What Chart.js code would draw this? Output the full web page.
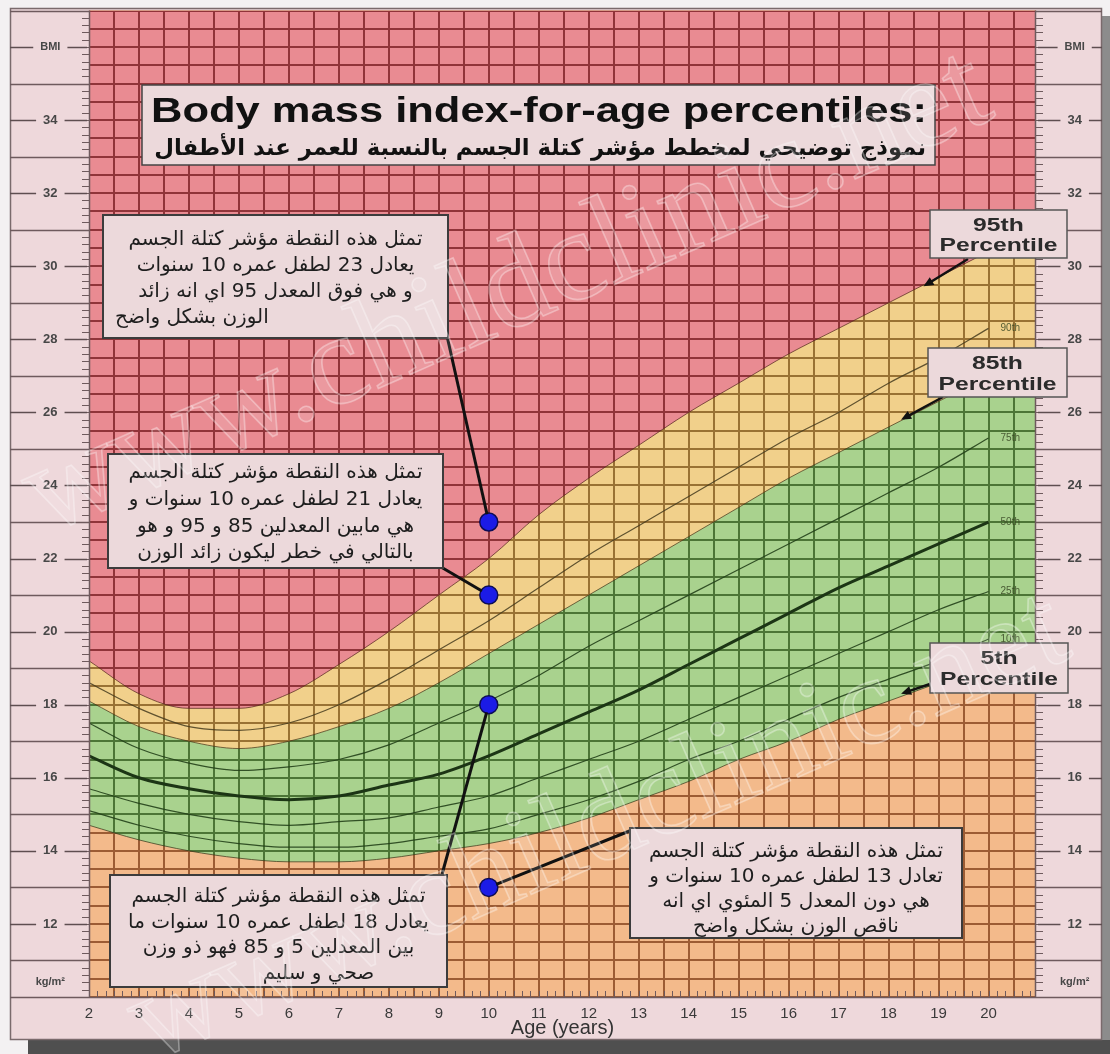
<!DOCTYPE html>
<html><head><meta charset="utf-8">
<script src="https://cdn.jsdelivr.net/npm/chart.js@4.4.1/dist/chart.umd.min.js"></script>
<style>
html,body{margin:0;padding:0;background:#f2f0f1;}
#wrap{position:relative;width:1110px;height:1054px;}
canvas{display:block;}
</style></head><body>
<div id="wrap"><canvas id="c" width="1110" height="1054"></canvas></div>
<script>
// ---------- DATA ----------
const ages = [2,3,4,5,6,7,8,9,10,11,12,13,14,15,16,17,18,19,20];
const edgeAge = [20.95];
const p95 = [19.2,18.3,17.9,17.9,18.3,19.1,20.0,21.0,22.0,23.2,24.2,25.1,26.0,26.8,27.6,28.3,29.0,29.7,30.4,31.0];
const p90 = [18.6,17.9,17.4,17.3,17.5,18.0,18.7,19.5,20.3,21.2,22.1,22.9,23.7,24.5,25.3,26.0,26.8,27.5,28.3];
const p85 = [18.1,17.4,17.0,16.8,17.0,17.4,17.9,18.6,19.4,20.2,21.0,21.8,22.6,23.4,24.2,24.9,25.6,26.3,27.0,27.6];
const p75 = [17.5,16.8,16.4,16.2,16.3,16.5,16.9,17.5,18.1,18.8,19.6,20.3,21.0,21.7,22.4,23.1,23.8,24.5,25.3];
const p50 = [16.6,16.0,15.7,15.5,15.4,15.5,15.8,16.1,16.6,17.2,17.8,18.4,19.1,19.8,20.5,21.2,21.8,22.4,23.0];
const p25 = [15.7,15.3,15.0,14.8,14.7,14.8,14.9,15.2,15.5,16.0,16.5,17.0,17.6,18.2,18.8,19.4,20.0,20.6,21.1];
const p10 = [15.1,14.7,14.4,14.2,14.1,14.1,14.2,14.4,14.6,15.0,15.4,15.9,16.5,17.0,17.6,18.2,18.7,19.2,19.8];
const p5  = [14.7,14.3,14.0,13.8,13.7,13.7,13.8,14.0,14.2,14.5,14.9,15.4,15.9,16.5,17.0,17.6,18.1,18.6,19.1,19.6];
const lineLabels = ['90th','75th','50th','25th','10th'];
const childAges = [10,10,10,10];
const childBMI = [23,21,18,13];
const ageTicks = [2,3,4,5,6,7,8,9,10,11,12,13,14,15,16,17,18,19,20];
const bmiTicks = [12,14,16,18,20,22,24,26,28,30,32,34];
const unitTickValues = [36,10.4];
const unitTickLabels = ['BMI','kg/m²'];
const percentileBoxLabels = ['95th','85th','5th'];
const arrowTipAges = [18.7,18.25,18.25];
const arrowTipBMI = [29.45,25.8,18.3];
const titleText = 'Body mass index-for-age percentiles:';
const subtitleText = 'نموذج توضيحي لمخطط مؤشر كتلة الجسم بالنسبة للعمر عند الأطفال';
const noteA = ['تمثل هذه النقطة مؤشر كتلة الجسم','يعادل 23 لطفل عمره 10 سنوات','و هي فوق المعدل 95 اي انه زائد','الوزن بشكل واضح'];
const noteB = ['تمثل هذه النقطة مؤشر كتلة الجسم','يعادل 21 لطفل عمره 10 سنوات و','هي مابين المعدلين 85 و 95 و هو','بالتالي في خطر ليكون زائد الوزن'];
const noteC = ['تمثل هذه النقطة مؤشر كتلة الجسم','يعادل 18 لطفل عمره 10 سنوات ما','بين المعدلين 5 و 85 فهو ذو وزن','صحي و سليم'];
const noteD = ['تمثل هذه النقطة مؤشر كتلة الجسم','تعادل 13 لطفل عمره 10 سنوات و','هي دون المعدل 5 المئوي اي انه','ناقص الوزن بشكل واضح'];
const watermarkText = 'www.childclinic.net';

// ---------- STYLE ----------
const SANS = "'Liberation Sans',Arial,sans-serif";
const NARROW = "'Liberation Sans Narrow','Liberation Sans',Arial,sans-serif";
const ARABIC = "'DejaVu Sans',sans-serif";
const C = {page:'#f3f1f2', panel:'#eed8db', red:'#e98b92', yellow:'#f1d08b', green:'#a9d28e', orange:'#f3ba8b',
  box:'#ecd9db', panelLine:'#6e5a5d'};
const frame = {l:10, t:8, r:1102, b:1040};
const TICK_PAD = 24;

const bandX = ages.concat(edgeAge);
const pts = (xs, ys) => ys.map((v,i)=>({x:xs[i], y:v}));

function line(ctx,x1,y1,x2,y2){ctx.beginPath();ctx.moveTo(x1,y1);ctx.lineTo(x2,y2);ctx.stroke();}

const bgPlugin = {
  id:'bg',
  beforeDraw(chart){
    const {ctx, chartArea:a} = chart;
    ctx.save();
    ctx.fillStyle = C.page; ctx.fillRect(0,0,chart.width,chart.height);
    ctx.fillStyle = '#8c8c8c'; ctx.fillRect(frame.r, frame.t+8, 8, chart.height);
    ctx.fillStyle = '#4f4f4f'; ctx.fillRect(frame.l+18, frame.b, chart.width, chart.height-frame.b);
    ctx.fillStyle = C.panel; ctx.fillRect(frame.l, frame.t, frame.r-frame.l, frame.b-frame.t);
    ctx.strokeStyle = '#7a6a6c'; ctx.lineWidth = 1.5;
    ctx.strokeRect(frame.l+0.5, frame.t+0.5, frame.r-frame.l-1, frame.b-frame.t-1);
    ctx.fillStyle = C.orange; ctx.fillRect(a.left, a.top, a.right-a.left, a.bottom-a.top);
    ctx.restore();
  }
};

const gridPlugin = {
  id:'zonegrid',
  beforeDatasetsDraw(chart){
    const {ctx, chartArea:a, scales:{x,y}} = chart;
    const path = new Path2D();
    for (let v=x.min; v<=x.max+1e-9; v+=0.5){ const px=Math.round(x.getPixelForValue(v)); path.rect(px-1,a.top,2,a.bottom-a.top); }
    for (let v=y.min; v<=y.max+1e-9; v+=0.5){ const py=Math.round(y.getPixelForValue(v)); path.rect(a.left,py-1,a.right-a.left,2); }
    ctx.save();
    ctx.beginPath(); ctx.rect(a.left,a.top,a.right-a.left,a.bottom-a.top); ctx.clip();
    ctx.clip(path);
    ctx.globalCompositeOperation = 'multiply';
    ctx.setTransform(1,0,0,1,0,0);
    ctx.drawImage(chart.canvas,0,0);
    ctx.fillStyle = 'rgb(172,172,172)';
    ctx.fillRect(a.left,a.top,a.right-a.left,a.bottom-a.top);
    ctx.restore();
  }
};

function tickLabel(v){ const i = unitTickValues.indexOf(v); return i>=0 ? unitTickLabels[i] : String(v); }
function tickFont(v){ return 'bold ' + (unitTickValues.includes(v) ? 11 : 13) + 'px ' + SANS; }

// draw text horizontally stretched to a given scale
function stretchText(ctx, text, x, y, sx){
  ctx.save(); ctx.translate(x, y); ctx.scale(sx, 1); ctx.fillText(text, 0, 0); ctx.restore();
}

function drawNote(ctx, b){
  ctx.save();
  ctx.fillStyle = C.box; ctx.fillRect(b.x,b.y,b.w,b.h);
  ctx.lineWidth = 2; ctx.strokeStyle = '#3c3c3c'; ctx.strokeRect(b.x,b.y,b.w,b.h);
  let size = 20;
  ctx.font = size + 'px ' + ARABIC;
  const maxW = Math.max(...b.lines.map(l=>ctx.measureText(l).width));
  size = Math.min(20, size * (b.w - 22) / maxW);
  ctx.font = size.toFixed(2) + 'px ' + ARABIC;
  ctx.direction = 'rtl'; ctx.textBaseline = 'middle'; ctx.fillStyle = '#1e1e1e';
  b.lines.forEach((l,i)=>{
    const al = b.align[i];
    if (al === 'left'){ ctx.textAlign='left'; ctx.fillText(l, b.x+12, b.y0+i*b.dy); }
    else { ctx.textAlign='center'; ctx.fillText(l, b.x+b.w/2+(b.dx?b.dx[i]:0), b.y0+i*b.dy); }
  });
  ctx.restore();
}

function arrow(ctx, x1,y1,x2,y2){
  const ang = Math.atan2(y2-y1,x2-x1), L=11;
  ctx.beginPath(); ctx.moveTo(x1,y1); ctx.lineTo(x2-Math.cos(ang)*6, y2-Math.sin(ang)*6); ctx.stroke();
  ctx.beginPath(); ctx.moveTo(x2,y2);
  ctx.lineTo(x2-L*Math.cos(ang-0.42), y2-L*Math.sin(ang-0.42));
  ctx.lineTo(x2-L*Math.cos(ang+0.42), y2-L*Math.sin(ang+0.42));
  ctx.closePath(); ctx.fill();
}

const decoPlugin = {
  id:'deco',
  afterDatasetsDraw(chart){
    const {ctx, chartArea:a, scales:{x,y}} = chart;
    ctx.save();
    // side panels
    ctx.strokeStyle = C.panelLine; ctx.lineWidth = 1.5;
    for (let v=11; v<=37; v+=2){ const py=Math.round(y.getPixelForValue(v))+0.5; line(ctx,frame.l,py,a.left,py); line(ctx,a.right,py,frame.r,py); }
    line(ctx, frame.l, a.bottom+0.5, frame.r, a.bottom+0.5);
    line(ctx, a.left+0.5, a.top, a.left+0.5, a.bottom);
    line(ctx, a.right-0.5, a.top, a.right-0.5, a.bottom);
    ctx.lineWidth = 1;
    for (let k=0; k<=135; k++){ const py=Math.round(y.getPixelForValue(10+k*0.2))+0.5; line(ctx,a.left-7,py,a.left,py); line(ctx,a.right,py,a.right+7,py); }
    for (let k=0; k*(1/6) <= x.max-2+1e-9; k++){ const px=Math.round(x.getPixelForValue(2+k/6))+0.5; line(ctx,px,a.bottom-6,px,a.bottom); }
    // dashes around tick labels
    let widest = 0;
    bmiTicks.concat(unitTickValues).forEach(v=>{ ctx.font=tickFont(v); widest=Math.max(widest, ctx.measureText(tickLabel(v)).width); });
    const cxL = a.left - TICK_PAD - widest/2, cxR = a.right + TICK_PAD + widest/2;
    ctx.lineWidth = 1.5; ctx.strokeStyle = '#5e4e50';
    bmiTicks.concat([unitTickValues[0]]).forEach(v=>{
      ctx.font = tickFont(v); const w = ctx.measureText(tickLabel(v)).width;
      const py = Math.round(y.getPixelForValue(v))+0.5;
      line(ctx, frame.l, py, cxL-w/2-7, py); line(ctx, cxL+w/2+7, py, a.left-2, py);
      line(ctx, a.right+2, py, cxR-w/2-7, py); line(ctx, cxR+w/2+7, py, frame.r, py);
    });
    // percentile labels at the right end of lines
    const ends = [p90,p75,p50,p25,p10];
    ctx.font = '10px ' + SANS; ctx.fillStyle = 'rgba(55,70,35,0.85)'; ctx.textBaseline='middle'; ctx.textAlign='left';
    ends.forEach((arr,i)=>{ ctx.fillText(lineLabels[i], x.getPixelForValue(ages[ages.length-1])+12, y.getPixelForValue(arr[arr.length-1])); });
    // pointer lines to the child points
    const from = [[447,336],[441,567],[441,878],[632,830]];
    ctx.strokeStyle = '#111'; ctx.lineWidth = 3;
    childAges.forEach((ag,i)=>{
      const tx=x.getPixelForValue(ag), ty=y.getPixelForValue(childBMI[i]);
      const [fx,fy]=from[i]; const d=Math.hypot(tx-fx,ty-fy), r=8;
      line(ctx, fx, fy, tx-(tx-fx)*r/d, ty-(ty-fy)*r/d);
    });
    // notes
    drawNote(ctx,{x:103,y:215,w:345,h:123,lines:noteA,y0:240,dy:26,align:['c','c','c','left']});
    drawNote(ctx,{x:108,y:454,w:335,h:114,lines:noteB,y0:473,dy:26.7,align:['c','c','c','c']});
    drawNote(ctx,{x:110,y:875,w:337,h:112,lines:noteC,y0:897,dy:25.5,align:['c','c','c','c'],dx:[0,0,0,40]});
    drawNote(ctx,{x:630,y:828,w:332,h:110,lines:noteD,y0:852,dy:25,align:['c','c','c','c']});
    // title box
    ctx.fillStyle = C.box; ctx.fillRect(142,85,793,80);
    ctx.strokeStyle = '#444'; ctx.lineWidth = 1.5; ctx.strokeRect(142,85,793,80);
    ctx.fillStyle = '#111'; ctx.direction='ltr'; ctx.textAlign='left'; ctx.textBaseline='alphabetic';
    ctx.font = 'bold 35px ' + SANS;
    const tw = ctx.measureText(titleText).width;
    stretchText(ctx, titleText, 151, 122, 776/tw);
    ctx.font = 'bold 22px ' + ARABIC;
    const sw = ctx.measureText(subtitleText).width;
    const ss = Math.min(24, 22*772/sw);
    ctx.font = 'bold ' + ss.toFixed(2) + 'px ' + ARABIC;
    ctx.direction = 'rtl'; ctx.textAlign='right';
    ctx.fillText(subtitleText, 926, 155);
    ctx.direction = 'ltr';
    // percentile boxes with arrows
    const boxes = [{x:930,y:210,w:137,h:48},{x:928,y:348,w:139,h:49},{x:930,y:643,w:138,h:50}];
    const starts = [[968,259],[943,397],[930,684]];
    ctx.fillStyle = '#111'; ctx.strokeStyle = '#111'; ctx.lineWidth = 2.5;
    starts.forEach((s,i)=>{ arrow(ctx, s[0], s[1], x.getPixelForValue(arrowTipAges[i]), y.getPixelForValue(arrowTipBMI[i])); });
    ctx.font = 'bold 18px ' + SANS;
    const pw = ctx.measureText('Percentile').width, psx = 118/pw;
    boxes.forEach((b,i)=>{
      ctx.fillStyle = C.box; ctx.fillRect(b.x,b.y,b.w,b.h);
      ctx.strokeStyle = '#555'; ctx.lineWidth = 1.5; ctx.strokeRect(b.x,b.y,b.w,b.h);
      ctx.fillStyle = '#2b2b2b'; ctx.textAlign='center'; ctx.textBaseline='middle';
      stretchText(ctx, percentileBoxLabels[i], b.x+b.w/2, b.y+b.h*0.33, psx);
      stretchText(ctx, 'Percentile', b.x+b.w/2, b.y+b.h*0.75, psx);
    });
    ctx.restore();
  },
  afterDraw(chart){
    const ctx = chart.ctx;
    const wm = (x0,y0,len)=>{
      ctx.save(); ctx.translate(x0,y0); ctx.rotate(-0.414);
      ctx.font = "130px 'Liberation Serif',serif";
      const w = ctx.measureText(watermarkText).width, s = len/w;
      ctx.scale(s,s);
      ctx.fillStyle = 'rgba(255,255,255,0.12)'; ctx.strokeStyle = 'rgba(255,255,255,0.34)'; ctx.lineWidth = 1.6/s;
      ctx.fillText(watermarkText,0,0); ctx.strokeText(watermarkText,0,0);
      ctx.restore();
    };
    wm(45,535,1040); wm(150,1062,1010);
  }
};

function yAxis(position){
  return {
    type:'linear', position, min:10, max:37,
    afterBuildTicks: s => { s.ticks = bmiTicks.concat(unitTickValues).map(v=>({value:v})); },
    ticks:{ autoSkip:false, crossAlign:'center', padding:TICK_PAD, color:'#474747',
      font: c => ({family:SANS, weight:'bold', size: (c.tick && unitTickValues.includes(c.tick.value)) ? 11 : 13}),
      callback: v => tickLabel(v) },
    grid:{display:false, drawTicks:false}, border:{display:false},
    afterFit: s => { s.width = position==='left' ? 79 : 66; s.paddingTop = 0; s.paddingBottom = 0; }
  };
}

const lineDs = (label, xs, ys, color, width, fill, bg) => ({
  label, data: pts(xs, ys), borderColor: color, borderWidth: width, fill: fill, backgroundColor: bg,
  pointRadius:0, pointHoverRadius:0, cubicInterpolationMode:'monotone', order:1
});

new Chart(document.getElementById('c'), {
  type:'line',
  data:{ datasets:[
    lineDs('95th', bandX, p95, 'rgba(90,45,35,0.75)', 1, 'end', C.red),
    lineDs('85th', bandX, p85, 'rgba(70,60,30,0.75)', 1, '-1', C.yellow),
    lineDs('5th', bandX, p5, 'rgba(60,60,30,0.75)', 1, '-1', C.green),
    lineDs('90th', ages, p90, 'rgba(70,60,30,0.85)', 1.2, false, 'transparent'),
    lineDs('75th', ages, p75, 'rgba(35,65,25,0.9)', 1.2, false, 'transparent'),
    lineDs('50th', ages, p50, '#1c3515', 3, false, 'transparent'),
    lineDs('25th', ages, p25, 'rgba(35,65,25,0.9)', 1.2, false, 'transparent'),
    lineDs('10th', ages, p10, 'rgba(35,65,25,0.9)', 1.2, false, 'transparent'),
    { label:'child', data: pts(childAges, childBMI), showLine:false, pointRadius:9, pointHoverRadius:9,
      pointBackgroundColor:'#1b1be6', pointBorderColor:'#0d0d55', pointBorderWidth:1.5, order:0 }
  ]},
  options:{
    responsive:false, animation:false, events:[],
    layout:{ padding:{left:10, top:8, right:8, bottom:14} },
    plugins:{ legend:{display:false}, tooltip:{enabled:false}, filler:{drawTime:'beforeDatasetsDraw'} },
    scales:{
      x:{ type:'linear', position:'bottom', min:2, max:20.95,
        afterBuildTicks: s => { s.ticks = ageTicks.map(v=>({value:v})); },
        ticks:{ autoSkip:false, maxRotation:0, padding:8, color:'#3a3a3a', font:{family:NARROW, size:15} },
        grid:{display:false, drawTicks:false}, border:{display:false},
        title:{ display:true, text:'Age (years)', color:'#333', font:{family:NARROW, size:20}, padding:{top:0,bottom:0} },
        afterFit: s => { s.height = 43; } },
      y: yAxis('left'),
      y2: yAxis('right')
    }
  },
  plugins:[bgPlugin, gridPlugin, decoPlugin]
});
</script>
</body></html>
